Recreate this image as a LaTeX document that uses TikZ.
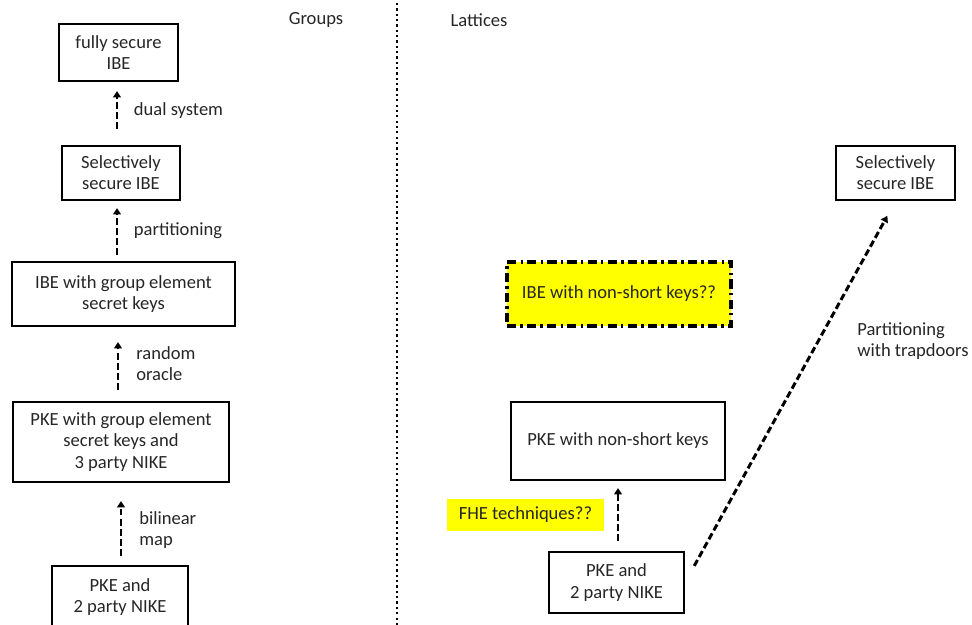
\documentclass[tikz,border=0pt]{standalone}
\usepackage{fontspec}
\setmainfont{Carlito}
\usetikzlibrary{calc}
\usetikzlibrary{arrows.meta}

\definecolor{ink}{RGB}{38,38,38}
\definecolor{hilite}{RGB}{255,255,0}
\newcommand{\pxu}{0.025cm}

\tikzset{
  box/.style={draw=black, line width=1.5pt, align=center, text=ink, inner sep=0pt},
  maybebox/.style={box, fill=hilite, line width=2.2pt, dash pattern=on 6.5pt off 3pt on 1.8pt off 3pt},
  dasharrow/.style={black, line width=2.1pt, dash pattern=on 4.8pt off 2.4pt, -{Triangle[length=4.5pt,width=5.5pt]}},
  lbl/.style={text=ink, align=left, inner sep=0pt},
}

\begin{document}
\begin{tikzpicture}[x=0.025cm, y=-0.025cm, font=\fontsize{13.2pt}{15pt}\selectfont]
\useasboundingbox (0,0) rectangle (972,624);

\coordinate (divtop) at (397,3);
\coordinate (divbot) at (397,626);

% Groups side
\node[box, minimum width=119*\pxu, minimum height=57*\pxu] (fullyL) at (118.5,52.5) {fully secure\\IBE};
\node[box, minimum width=118*\pxu, minimum height=54*\pxu] (selL) at (121,173) {Selectively\\secure IBE};
\node[box, minimum width=223*\pxu, minimum height=64*\pxu] (ibeL) at (123.5,294) {IBE with group element\\secret keys};
\node[box, minimum width=216*\pxu, minimum height=80*\pxu] (pkeL) at (121,442) {PKE with group element\\secret keys and\\3 party NIKE};
\node[box, minimum width=136*\pxu, minimum height=62*\pxu] (nikeL) at (120,597) {PKE and\\2 party NIKE};

% Lattices side
\node[box, minimum width=119*\pxu, minimum height=54*\pxu] (selR) at (895.5,173) {Selectively\\secure IBE};
\node[maybebox, minimum width=224*\pxu, minimum height=64*\pxu] (ibeR) at (619,294) {IBE with non-short keys??};
\node[box, minimum width=214*\pxu, minimum height=78*\pxu] (pkeR) at (618,441) {PKE with non-short keys};
\node[box, minimum width=135*\pxu, minimum height=61*\pxu] (nikeR) at (616.5,582.5) {PKE and\\2 party NIKE};
\node[fill=hilite, text=ink, minimum width=157*\pxu, minimum height=32*\pxu] (fhe) at (525.5,515) {FHE techniques??};

\node[lbl] (groups) at (316,20) {Groups};
\node[lbl] (lattices) at (479,20) {Lattices};
\draw[black, line width=1.6pt, dash pattern=on 1.6pt off 2.2pt] (divtop) -- (divbot);

\draw[dasharrow, shorten <=11.4pt, shorten >=6.4pt] ($(selL.north)+(-4,0)$) -- ($(selL.north |- fullyL.south)+(-4,0)$) node[lbl, midway, right=11pt, yshift=2pt] {dual system};
\draw[dasharrow, shorten <=4.3pt, shorten >=5pt] ($(ibeL.north)+(-6.5,0)$) -- ($(ibeL.north |- selL.south)+(-6.5,0)$) node[lbl, midway, right=11pt] {partitioning};
\draw[dasharrow, shorten <=7.8pt, shorten >=10.7pt] ($(pkeL.north)+(-3,0)$) -- ($(pkeL.north |- ibeL.south)+(-3,0)$) node[lbl, midway, right=12pt] {random\\oracle};
\draw[dasharrow, shorten <=6.4pt, shorten >=12.8pt] ($(nikeL.north)+(1,0)$) -- ($(nikeL.north |- pkeL.south)+(1,0)$) node[lbl, midway, right=12pt, yshift=-4.5pt] {bilinear\\map};

\draw[dasharrow, shorten <=7pt, shorten >=5pt] ($(nikeR.north)+(1.5,0)$) -- ($(nikeR.north |- pkeR.south)+(1.5,0)$);
\draw[dasharrow, shorten <=13.5pt, shorten >=12pt] (nikeR.east) -- (selR.south);
\node[lbl, anchor=west] (trap) at (857,341) {Partitioning\\with trapdoors};

\end{tikzpicture}
\end{document}
